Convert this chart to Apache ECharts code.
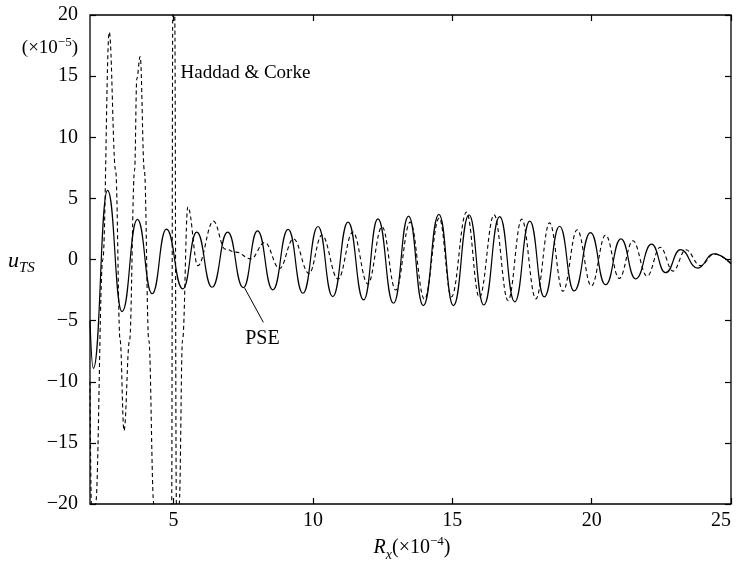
<!DOCTYPE html>
<html>
<head>
<meta charset="utf-8">
<script src="https://cdn.jsdelivr.net/npm/echarts@6/dist/echarts.min.js"></script>
<style>
html,body{margin:0;padding:0;background:#fff;}
#c{width:741px;height:563px;}
</style>
</head>
<body>
<div id="c"></div>
<script>
// ---- data ----
const xTicks = [5, 10, 15, 20, 25];
const pseX = [2.0, 2.12, 2.63, 3.15, 3.70, 4.23, 4.74, 5.33, 5.83, 6.38, 6.94, 7.50, 8.01, 8.56, 9.11, 9.64, 10.18, 10.71, 11.26, 11.82, 12.33, 12.89, 13.43, 13.96, 14.52, 15.04, 15.60, 16.13, 16.70, 17.24, 17.78, 18.30, 18.85, 19.37, 19.96, 20.50, 21.05, 21.58, 22.15, 22.65, 23.19, 23.80, 24.38, 25.0];
const pseY = [-5.0, -8.9, 5.66, -4.26, 3.28, -2.8, 2.49, -2.4, 2.24, -2.27, 2.24, -2.3, 2.34, -2.49, 2.46, -2.76, 2.70, -3.03, 3.06, -3.31, 3.33, -3.58, 3.55, -3.77, 3.69, -3.77, 3.66, -3.72, 3.5, -3.46, 3.14, -3.06, 2.72, -2.57, 2.2, -2.06, 1.69, -1.58, 1.25, -1.08, 0.8, -0.7, 0.46, -0.35];
const hcX = [2.0, 2.05, 2.12, 2.2, 2.46, 2.69, 2.92, 3.08, 3.22, 3.42, 3.60, 3.68, 3.8, 3.95, 4.11, 4.29, 4.6, 4.93, 4.97, 5.0, 5.04, 5.1, 5.15, 5.2, 5.32, 5.51, 5.87, 6.43, 6.85, 7.24, 7.77, 8.27, 8.8, 9.3, 9.86, 10.32, 10.9, 11.43, 11.97, 12.48, 12.97, 13.49, 14.0, 14.53, 14.97, 15.51, 15.97, 16.5, 17.0, 17.49, 18.0, 18.49, 18.97, 19.48, 19.99, 20.5, 20.99, 21.48, 21.99, 22.46, 22.92, 23.38, 23.9, 24.4, 25.0];
const hcY = [-10, -20, -28, -20, 0, 18.6, 7.3, -6.6, -14.0, -6.6, 7.3, 14.8, 16.6, 7.3, -6.6, -20, -40, -20, 20, 25, 20, -20, -25, -20, -6.6, 4.3, -0.5, 3.14, 0.85, 0.6, 0.05, 1.4, -0.74, 1.69, -1.15, 2.0, -1.6, 2.24, -2.0, 2.68, -2.5, 3.06, -3.25, 3.4, -3.05, 3.88, -3.1, 3.65, -3.36, 3.3, -3.22, 3.0, -2.6, 2.43, -2.17, 2.0, -1.55, 1.53, -1.37, 1.0, -0.95, 0.8, -0.5, 0.46, -0.35];
const hcLabel = {text: 'Haddad & Corke', x: 5.25, y: 15.25};
const pseLabel = {text: 'PSE', x: 7.57, y: -6.48};
const pseLeader = [[7.55, -2.34], [8.22, -5.14]];

const FONT = '"Liberation Serif", "Times New Roman", serif';
const pse = pseX.map((x, i) => [x, pseY[i]]);
const hc = hcX.map((x, i) => [x, hcY[i]]);

const chart = echarts.init(document.getElementById('c'), null, {renderer: 'canvas'});
const lineCol = '#000';
const tickStyle = {color: lineCol, width: 1.2};
const minus = v => String(v).replace('-', '\u2212');
const noLine = {show: false, onZero: false};

const option = {
  animation: false,
  backgroundColor: '#fff',
  grid: {left: 90, right: 10, top: 15, bottom: 59, show: true, borderColor: '#000', borderWidth: 1.3, backgroundColor: 'transparent'},
  xAxis: [
    {type: 'value', min: 2, max: 25, position: 'bottom',
     axisLine: noLine,
     axisTick: {show: true, inside: true, length: 6, customValues: xTicks, lineStyle: tickStyle},
     axisLabel: {show: true, customValues: xTicks, fontFamily: FONT, fontSize: 20, color: '#000', margin: 7, alignMaxLabel: 'right'},
     splitLine: {show: false}},
    {type: 'value', min: 2, max: 25, position: 'top',
     axisLine: noLine,
     axisTick: {show: true, inside: true, length: 6, customValues: xTicks, lineStyle: tickStyle},
     axisLabel: {show: false}, splitLine: {show: false}}
  ],
  yAxis: [
    {type: 'value', min: -20, max: 20, interval: 5, position: 'left',
     axisLine: noLine,
     axisTick: {show: true, inside: true, length: 6, lineStyle: tickStyle},
     axisLabel: {show: true, fontFamily: FONT, fontSize: 20, color: '#000', margin: 12, formatter: minus},
     splitLine: {show: false}},
    {type: 'value', min: -20, max: 20, interval: 5, position: 'right',
     axisLine: noLine,
     axisTick: {show: true, inside: true, length: 6, lineStyle: tickStyle},
     axisLabel: {show: false}, splitLine: {show: false}}
  ],
  series: [
    {type: 'line', name: 'PSE', data: pse, showSymbol: false, smooth: 0.5, smoothMonotone: 'x', clip: true,
     lineStyle: {color: '#000', width: 1.2, type: 'solid'},
     markLine: {silent: true, symbol: ['none', 'none'], label: {show: false},
       lineStyle: {color: '#000', width: 1, type: 'solid'},
       data: [[{coord: pseLeader[0]}, {coord: pseLeader[1]}]]}},
    {type: 'line', name: 'Haddad & Corke', data: hc, showSymbol: false, smooth: 0.4, smoothMonotone: 'x', clip: true,
     lineStyle: {color: '#000', width: 1.1, type: [4, 3]}}
  ]
};
chart.setOption(option);

function drawText() {
  const p1 = chart.convertToPixel({gridIndex: 0}, [hcLabel.x, hcLabel.y]);
  const p2 = chart.convertToPixel({gridIndex: 0}, [pseLabel.x, pseLabel.y]);
  chart.setOption({
    graphic: [
      {type: 'text', x: p1[0], y: p1[1], style: {text: hcLabel.text, font: '19px ' + FONT, fill: '#000', align: 'left', verticalAlign: 'middle'}},
      {type: 'text', x: p2[0], y: p2[1], style: {text: pseLabel.text, font: '20px ' + FONT, fill: '#000', align: 'left', verticalAlign: 'middle'}},
      {type: 'text', x: 78, y: 46, style: {
        text: '{a|(\u00d710}{s|\u22125}{a|)}', align: 'right', verticalAlign: 'middle',
        rich: {a: {fontFamily: FONT, fontSize: 19, fill: '#000', lineHeight: 24, verticalAlign: 'bottom'},
               s: {fontFamily: FONT, fontSize: 13, fill: '#000', lineHeight: 24, verticalAlign: 'bottom', padding: [0, 0, 9, 0]}}}},
      {type: 'text', x: 8, y: 263, style: {
        text: '{u|u}{t|TS}', align: 'left', verticalAlign: 'middle',
        rich: {u: {fontFamily: FONT, fontStyle: 'italic', fontSize: 22, fill: '#000', lineHeight: 26, verticalAlign: 'bottom', padding: [0, 0, 4, 0]},
               t: {fontFamily: FONT, fontStyle: 'italic', fontSize: 15, fill: '#000', lineHeight: 26, verticalAlign: 'bottom', padding: [0, 0, 0, 0]}}}},
      {type: 'text', x: 412, y: 549, style: {
        text: '{r|R}{x|x}{a|(\u00d710}{s|\u22124}{a|)}', align: 'center', verticalAlign: 'middle',
        rich: {r: {fontFamily: FONT, fontStyle: 'italic', fontSize: 20, fill: '#000', lineHeight: 26, verticalAlign: 'bottom', padding: [0, 0, 4, 0]},
               x: {fontFamily: FONT, fontStyle: 'italic', fontSize: 14, fill: '#000', lineHeight: 26, verticalAlign: 'bottom', padding: [0, 0, 0, 0]},
               a: {fontFamily: FONT, fontSize: 20, fill: '#000', lineHeight: 26, verticalAlign: 'bottom', padding: [0, 0, 4, 0]},
               s: {fontFamily: FONT, fontSize: 13, fill: '#000', lineHeight: 26, verticalAlign: 'bottom', padding: [0, 0, 14, 0]}}}}
    ]
  });
}
drawText();
</script>
</body>
</html>
